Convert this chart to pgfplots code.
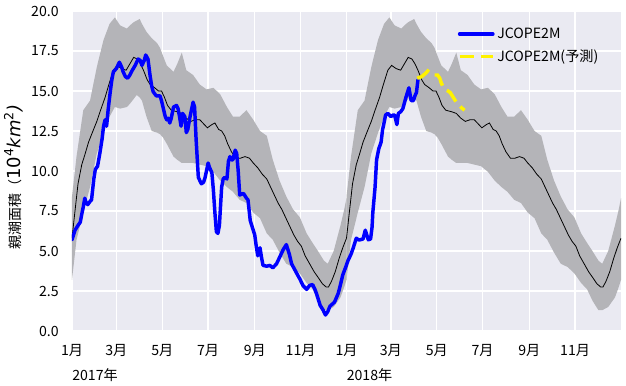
\documentclass[border=0pt]{standalone}
\usepackage{fontspec}
\setmainfont{Noto Sans CJK JP}
\newfontfamily\dv{DejaVu Sans}
\usepackage{pgfplots}
\usepackage{pgfplotstable}
\pgfplotsset{compat=1.18}
\usepgfplotslibrary{fillbetween}
\usetikzlibrary{calc}
\definecolor{bgc}{HTML}{EAEAF2}
\definecolor{bandc}{RGB}{180,180,184}
\newcommand{\lbl}{\fontsize{10.6}{12.5}\selectfont}

% climatological band (day of year, lower, upper)
\pgfplotstableread{
d lo hi
0 3.2 8.4
6 5.7 10.9
15 7.4 13.8
24 9.0 14.4
33 11.1 16.5
42 12.4 18.2
50 13.4 19.2
57 14.0 19.6
64 13.9 19.1
73 14.0 18.9
77 14.2 19.1
82 14.5 19.3
86 14.75 19.4
90 14.6 19.5
93 14.4 19.2
99 13.4 18.7
106 12.5 18.3
113 12.4 18.0
117 12.3 17.7
121 12.1 17.2
126 11.7 16.6
135 10.9 16.2
140 10.7 16.7
146 10.5 17.4
152 10.5 16.3
161 10.5 16.0
170 10.4 15.4
179 10.3 15.1
188 9.95 15.2
197 9.4 14.8
206 9.0 14.0
214 8.7 13.4
223 8.2 13.4
232 8.0 13.8
241 7.4 13.2
250 7.05 12.5
259 6.1 12.2
267 5.7 10.7
276 4.9 9.4
285 4.2 8.4
294 4.0 7.6
303 3.6 7.1
312 3.0 6.1
320 2.6 5.5
327 1.9 5.0
335 1.3 4.4
340 1.3 4.2
348 1.5 5.0
357 2.1 6.6
362 2.75 7.6
365 3.2 8.3
}\band

% climatological mean (day of year, mean)
\pgfplotstableread{
d m
0 5.8
4 7.5
8 9.2
13 10.4
17 11.0
22 11.8
27 12.4
33 13.1
38 13.8
44 14.6
49 15.4
55 16.3
60 16.6
66 16.4
72 16.3
77 16.7
82 17.1
87 17.0
91 16.7
95 16.3
100 15.7
104 15.4
110 15.2
115 15.0
119 15.0
123 14.6
127 14.1
132 13.8
140 13.7
146 13.6
152 13.3
158 13.1
164 13.2
170 13.2
176 12.9
180 12.7
186 12.9
190 13.0
195 12.6
199 12.5
203 12.2
207 11.7
212 11.2
218 10.8
224 10.8
230 10.9
236 10.8
241 10.5
247 10.2
253 9.8
259 9.5
264 9.0
269 8.5
274 8.0
279 7.6
284 7.1
290 6.5
295 6.0
300 5.6
305 5.3
310 4.7
316 4.2
322 3.7
328 3.3
333 2.95
338 2.75
341 2.75
345 3.1
350 3.7
355 4.5
360 5.2
365 5.8
}\mean

% JCOPE2M (days since 2017-01-01)
\pgfplotstableread{
d v
0 5.7
4 6.3
8 6.6
11 6.8
13 7.3
15 7.75
17 8.3
19 8.0
21 7.9
24 8.1
26 8.2
29 9.5
31 10.1
34 10.3
37 11.1
40 12.0
42 12.8
44 13.2
46 12.8
48 13.8
51 15.0
53 15.7
55 16.2
59 16.4
63 16.8
66 16.5
68 16.2
71 15.9
74 15.8
77 16.0
79 16.2
84 16.6
88 17.0
91 16.9
93 16.6
96 16.9
98 17.25
101 17.0
104 15.9
106 15.3
108 14.95
112 14.7
117 14.7
119 14.4
121 14.0
124 13.4
126 13.2
128 13.3
130 13.0
132 13.3
135 14.0
139 14.1
141 13.9
143 13.4
145 12.8
147 13.6
150 13.4
152 12.4
154 12.6
157 13.4
161 14.3
163 14.0
165 12.0
168 9.6
172 9.2
175 9.3
177 9.6
181 10.5
183 10.2
186 9.9
188 8.8
190 7.4
192 6.2
194 6.1
196 6.6
199 9.0
201 9.5
203 9.6
206 9.5
208 10.6
210 10.9
212 10.7
214 10.7
217 11.3
219 11.1
221 10.0
223 8.5
228 8.6
232 8.3
234 8.2
237 6.9
241 6.3
243 6.0
245 5.3
247 4.7
250 5.2
252 4.6
254 4.1
259 4.05
263 4.1
267 3.95
272 4.2
276 4.6
281 5.1
285 5.4
289 4.8
292 4.2
296 3.85
300 3.5
303 3.25
307 2.85
310 2.7
312 2.6
316 2.85
320 2.9
323 2.6
325 2.35
330 1.6
334 1.3
337 1.0
340 1.2
343 1.55
349 1.8
354 2.35
357 2.9
360 3.5
364 4.0
367 4.4
371 4.8
374 5.2
378 5.8
381 5.7
383 5.7
387 5.75
390 6.3
392 6.0
394 5.7
397 5.75
399 6.5
400 7.4
403 9.0
405 10.7
408 11.4
411 11.8
413 12.6
414 12.8
417 13.5
420 13.6
424 13.4
427 13.5
429 13.5
432 12.9
434 13.6
437 13.7
440 13.9
444 14.6
448 15.2
451 14.4
454 14.4
456 14.7
458 14.9
460 15.7
}\obs

% JCOPE2M forecast
\pgfplotstableread{
d v
459 15.8
465 15.9
470 16.1
473 16.25
477 16.1
480 16.0
486 16.0
489 15.8
491 15.5
494 15.2
496 15.1
500 15.0
503 14.9
507 14.6
511 14.3
515 14.1
518 13.95
522 13.8
}\fcst

\begin{document}
\begin{tikzpicture}
\begin{axis}[
  scale only axis,
  width=411.75pt, height=240pt,
  xmin=0, xmax=730, ymin=0, ymax=20,
  axis background/.style={fill=bgc},
  axis line style={draw=none},
  tick style={draw=none},
  grid=major,
  major grid style={white, line width=1pt},
  xtick={0,59,120,181,243,304,365,424,485,546,608,669},
  xticklabels={1月,3月,5月,7月,9月,11月,1月,3月,5月,7月,9月,11月},
  ytick={0,2.5,5,7.5,10,12.5,15,17.5,20},
  /pgf/number format/fixed,
  /pgf/number format/fixed zerofill,
  /pgf/number format/precision=1,
  /pgf/number format/assume math mode=true,
  xticklabel style={yshift=-6.5pt, font=\lbl},
  yticklabel style={xshift=-6.5pt, font=\lbl},
  legend style={draw=none, fill=none, at={(0.695,0.965)}, anchor=north west,
    row sep=3pt, font=\lbl},
  legend cell align=left,
  legend image code/.code={\draw[#1] (0pt,0pt) -- (25pt,0pt);},
]
\addplot[name path=hiA, draw=none, forget plot] table[x=d, y=hi] {\band};
\addplot[name path=loA, draw=none, forget plot] table[x=d, y=lo] {\band};
\addplot[fill=bandc, draw=none, forget plot] fill between[of=hiA and loA];
\addplot[name path=hiB, draw=none, forget plot] table[x expr=\thisrow{d}+365, y=hi] {\band};
\addplot[name path=loB, draw=none, forget plot] table[x expr=\thisrow{d}+365, y=lo] {\band};
\addplot[fill=bandc, draw=none, forget plot] fill between[of=hiB and loB];
\addplot[black, line width=0.6pt, forget plot] table[x=d, y=m] {\mean};
\addplot[black, line width=0.6pt, forget plot] table[x expr=\thisrow{d}+365, y=m] {\mean};
\addplot[blue, line width=2.6pt, line join=round, line cap=round] table[x=d, y=v] {\obs};
\addlegendentry{JCOPE2M}
\addplot[yellow, line width=2.6pt, dash pattern=on 11pt off 5pt] table[x=d, y=v] {\fcst};
\addlegendentry{JCOPE2M(予測)}
\coordinate (SW) at (rel axis cs:0,0);
\coordinate (NE) at (rel axis cs:1,1);
\coordinate (W) at (rel axis cs:0,0.5);
\coordinate (Y18) at (axis cs:365,0);
\end{axis}
\node[anchor=west, inner sep=0pt, font=\lbl] at ($(SW)+(0,-33pt)$) {2017年};
\node[anchor=west, inner sep=0pt, font=\lbl] at ($(Y18)+(0,-33pt)$) {2018年};
\node[rotate=90, inner sep=0pt] at ($(W)+(-44pt,-4.5pt)$) {\fontsize{10.5}{12}\selectfont 親潮面積（{\dv\fontsize{13.5}{15}\selectfont 10\textsuperscript{4}\itshape km\textsuperscript{\upshape 2})}};
\pgfresetboundingbox
\path[use as bounding box] ($(SW)+(-54pt,-41.25pt)$) rectangle ($(NE)+(3.75pt,8.25pt)$);
\end{tikzpicture}
\end{document}
